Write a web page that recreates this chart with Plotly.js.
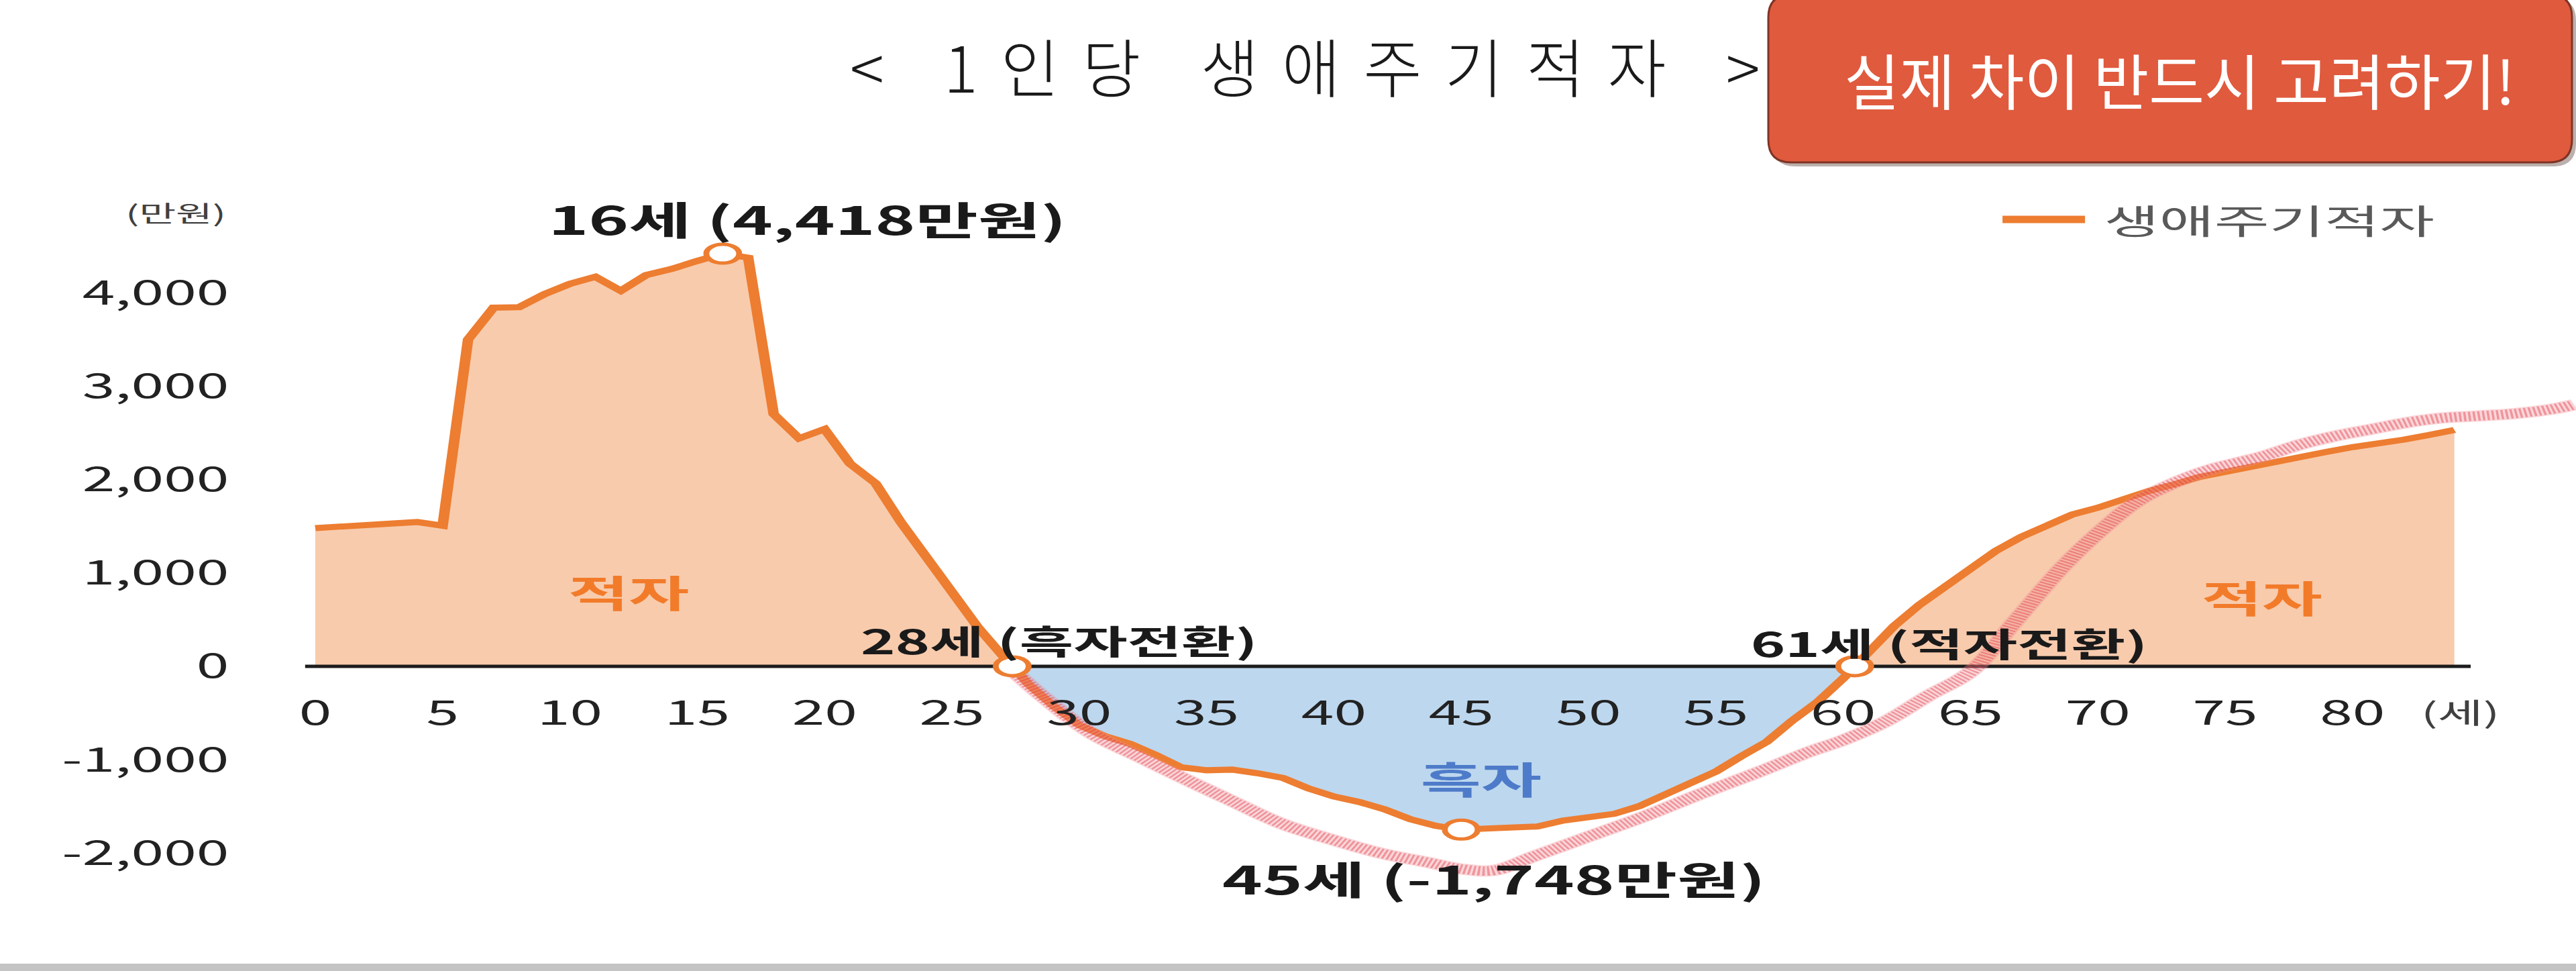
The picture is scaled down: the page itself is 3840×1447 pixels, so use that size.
<!DOCTYPE html>
<html>
<head>
<meta charset="utf-8">
<script src="https://cdn.plot.ly/plotly-3.0.1.min.js"></script>
<style>
  html, body { margin:0; padding:0; background:#fff; overflow:hidden; }
  #chart { position:absolute; left:0; top:0; width:2194px; height:1447px; transform-origin:0 0; }
  #overlay { position:absolute; left:0; top:0; width:3840px; height:1447px; }
  #overlay .gtitle { letter-spacing:34px; }
</style>
</head>
<body>
<div id="chart"></div>
<div id="overlay"></div>
<script>
// age (years)
var ages = [0,1,2,3,4,5,6,7,8,9,10,11,12,13,14,15,16,17,18,19,20,
  21,22,23,24,25,26,27,28,29,30,31,32,33,34,35,36,37,38,39,40,
  41,42,43,44,45,46,47,48,49,50,51,52,53,54,55,56,57,58,59,60,
  61,62,63,64,65,66,67,68,69,70,71,72,73,74,75,76,77,78,79,80,
  81,82,83,84];
// per-capita lifecycle deficit (만원)
var deficit = [1480,1495,1510,1525,1545,1505,3500,3840,3845,3985,4095,
  4170,4020,4190,4255,4340,4418,4375,2700,2440,2540,
  2170,1960,1540,1170,765,425,110,-190,-427,-630,
  -747,-831,-949,-1081,-1113,-1106,-1145,-1195,-1307,-1393,
  -1453,-1532,-1637,-1708,-1748,-1741,-1734,-1715,-1651,-1620,
  -1580,-1497,-1378,-1264,-1127,-962,-808,-581,-380,-129,
  157,431,660,849,1052,1237,1387,1512,1626,1698,
  1795,1877,1949,2028,2082,2139,2189,2236,2297,2347,
  2379,2426,2476,2530];
// hand-drawn red pen stroke over the chart
var penAge = [27.3,28.6,30.5,32.4,34.1,35.9,38.0,39.9,41.8,43.7,45.0,46.3,47.8,50.0,
  52.2,54.4,56.6,58.7,60.0,61.7,63.3,65.0,66.7,68.6,70.1,71.6,73.1,74.4,
  76.5,77.9,79.3,80.7,82.1,83.5,84.9,86.3,87.8,88.7];
var penVal = [-20,-330,-720,-975,-1200,-1430,-1690,-1854,-1998,-2100,-2170,-2185,-2040,-1823,
  -1606,-1366,-1140,-912,-790,-585,-322,-58,466,1060,1450,1775,1975,2105,
  2249,2371,2464,2536,2608,2658,2680,2704,2752,2800];

var xTicks = [0,5,10,15,20,25,30,35,40,45,50,55,60,65,70,75,80];
var xTickText = ['0','5','10','15','20','25','30','35','40','45','50','55','60','65','70','75','80'];
var yTicks = [-2000,-1000,0,1000,2000,3000,4000];
var yTickText = ['-2,000','-1,000','0','1,000','2,000','3,000','4,000'];
var yRange = [-2400, 5000];
var xRange = [-0.486, 88.776];

var ORANGE = '#ED7D31';
var FONT = '"Noto Sans CJK KR", "Noto Sans", sans-serif';
var STRETCH = 3840 / 2194;   // the pasted chart image is stretched sideways

// split series into positive / negative parts, adding the zero crossings
var fx = [], fPos = [], fNeg = [], cross = [];
for (var i = 0; i < ages.length; i++) {
  if (i > 0 && (deficit[i-1] > 0) !== (deficit[i] > 0)) {
    var t = deficit[i-1] / (deficit[i-1] - deficit[i]);
    var xc = ages[i-1] + t * (ages[i] - ages[i-1]);
    fx.push(xc); fPos.push(0); fNeg.push(0); cross.push(xc);
  }
  fx.push(ages[i]);
  fPos.push(Math.max(deficit[i], 0));
  fNeg.push(Math.min(deficit[i], 0));
}
var iMax = deficit.indexOf(Math.max.apply(null, deficit));
var iMin = deficit.indexOf(Math.min.apply(null, deficit));
function fmt(v) { return (v < 0 ? '-' : '') + Math.abs(v).toString().replace(/\B(?=(\d{3})+(?!\d))/g, ','); }

var traces = [
  {x:fx, y:fPos, mode:'lines', fill:'tozeroy', fillcolor:'#F8CBAD', line:{width:0}},
  {x:fx, y:fNeg, mode:'lines', fill:'tozeroy', fillcolor:'#BDD7EE', line:{width:0}},
  {x:[ages[0]-0.4, ages[ages.length-1]+0.64], y:[0,0], mode:'lines', line:{color:'#1c1c1c', width:5}},
  {x:ages, y:deficit, mode:'lines', name:'생애주기적자', line:{color:ORANGE, width:9}},
  {x:penAge, y:penVal, mode:'lines', line:{color:'rgba(242,140,150,0.35)', width:17, shape:'spline'}},
  {x:penAge, y:penVal, mode:'lines', line:{color:'rgba(225,55,70,0.42)', width:14, shape:'spline', dash:'2px,2px'}},
  {x:[ages[iMax], cross[0], ages[iMin], cross[1]], y:[deficit[iMax], 0, deficit[iMin], 0],
   mode:'markers', marker:{symbol:'circle', size:28, color:'#fff', line:{color:ORANGE, width:5}}}
];

var big = {family:FONT, size:58, color:'#1a1a1a', weight:'bold'};
var mid = {family:FONT, size:50, color:'#1a1a1a', weight:'bold'};
var layout = {
  width:2194, height:1447,
  margin:{l:258, r:0, t:297, b:120},
  paper_bgcolor:'#fff', plot_bgcolor:'rgba(0,0,0,0)',
  showlegend:false,
  font:{family:FONT, color:'#222'},
  xaxis:{range:xRange, tickvals:xTicks, ticktext:xTickText, showgrid:false, zeroline:false,
         showline:false, ticks:'', anchor:'free', position:(0 - yRange[0]) / (yRange[1] - yRange[0]),
         ticklabelstandoff:36, tickfont:{family:FONT, size:50, color:'#222'}},
  yaxis:{range:yRange, tickvals:yTicks, ticktext:yTickText, showgrid:false, zeroline:false,
         showline:false, ticks:'', ticklabelstandoff:62, tickfont:{family:FONT, size:50, color:'#222'}},
  shapes:[
    {type:'line', xref:'paper', yref:'paper', x0:0.7477, x1:0.784, y0:0.9709, y1:0.9709,
     line:{color:ORANGE, width:11}}
  ],
  annotations:[
    {x:ages[iMax], y:deficit[iMax], text:ages[iMax]+'세 ('+fmt(deficit[iMax])+'만원)',
     xshift:72, yshift:53, showarrow:false, font:big},
    {x:ages[iMin], y:deficit[iMin], text:ages[iMin]+'세 ('+fmt(deficit[iMin])+'만원)',
     xshift:28, yshift:-72, showarrow:false, font:big},
    {x:cross[0], y:0, text:Math.ceil(cross[0])+'세 (흑자전환)', xshift:40, yshift:40, showarrow:false, font:mid},
    {x:cross[1], y:0, text:Math.ceil(cross[1])+'세 (적자전환)', xshift:80, yshift:36, showarrow:false, font:mid},
    {x:12.3, y:811, text:'적자', showarrow:false, font:{family:FONT, size:56, color:'#F27B2A', weight:'bold'}},
    {x:76.45, y:754, text:'적자', showarrow:false, font:{family:FONT, size:56, color:'#F27B2A', weight:'bold'}},
    {x:45.76, y:-1192, text:'흑자', showarrow:false, font:{family:FONT, size:56, color:'#4E7BC9', weight:'bold'}},
    {x:84.25, y:-481, text:'(세)', showarrow:false, font:{family:FONT, size:42, color:'#404040'}},
    {xref:'paper', yref:'paper', x:-0.0556, y:0.9806, xanchor:'center', yanchor:'middle',
     text:'(만원)', showarrow:false, font:{family:FONT, size:34, color:'#404040'}},
    {xref:'paper', yref:'paper', x:0.7911, y:0.9709, xanchor:'left', yanchor:'middle',
     text:'생애주기적자', showarrow:false, font:{family:FONT, size:51, color:'#595959'}}
  ]
};

// slide elements on top: title, red call-out box, bottom bar
function roundRect(x0, y0, x1, y1, r) {
  return 'M'+(x0+r)+','+y0+' L'+(x1-r)+','+y0+' Q'+x1+','+y0+' '+x1+','+(y0+r)+
    ' L'+x1+','+(y1-r)+' Q'+x1+','+y1+' '+(x1-r)+','+y1+' L'+(x0+r)+','+y1+
    ' Q'+x0+','+y1+' '+x0+','+(y1-r)+' L'+x0+','+(y0+r)+' Q'+x0+','+y0+' '+(x0+r)+','+y0+' Z';
}
var over = {
  width:3840, height:1447, margin:{l:0, r:0, t:0, b:0},
  paper_bgcolor:'rgba(0,0,0,0)', plot_bgcolor:'rgba(0,0,0,0)', showlegend:false,
  xaxis:{range:[0,3840], visible:false}, yaxis:{range:[1447,0], visible:false},
  title:{text:'&lt; 1인당 생애주기적자 &gt;', xref:'container', yref:'container',
         x:0.5110, xanchor:'center', y:1 - 105/1447, yanchor:'middle',
         font:{family:FONT, size:95, color:'#1a1a1a', weight:300}},
  shapes:[
    {type:'path', path:roundRect(2642, -3, 3840, 248, 34), fillcolor:'rgba(60,30,20,0.35)', line:{width:0}},
    {type:'path', path:roundRect(2636, -8, 3834, 242, 34), fillcolor:'#E05A3E', line:{color:'#7E3424', width:3}},
    {type:'rect', x0:0, x1:3840, y0:1436, y1:1447, fillcolor:'#C4C4C4', line:{width:0}}
  ],
  annotations:[
    {x:3249, y:117, text:'실제 차이 반드시 고려하기!', showarrow:false,
     font:{family:FONT, size:90, color:'#ffffff'}}
  ]
};

Plotly.newPlot('chart', traces, layout, {staticPlot:true}).then(function() {
  document.getElementById('chart').style.transform = 'scaleX(' + STRETCH + ')';
});
Plotly.newPlot('overlay', [], over, {staticPlot:true});
</script>
</body>
</html>
